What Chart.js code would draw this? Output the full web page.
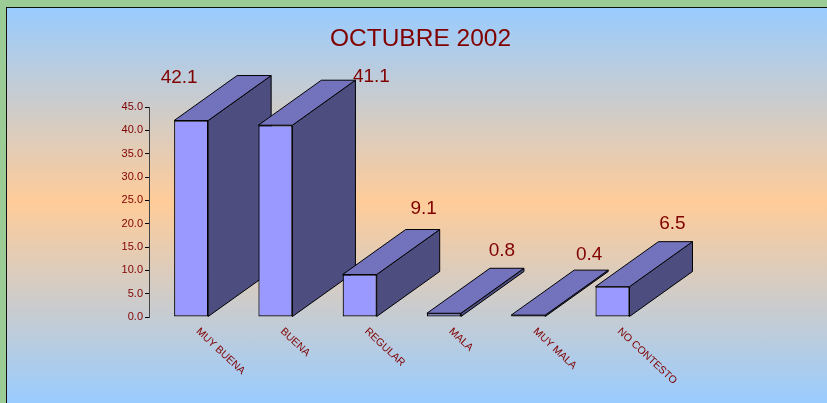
<!DOCTYPE html>
<html lang="es">
<head>
<meta charset="utf-8">
<title>OCTUBRE 2002</title>
<script src="https://cdn.jsdelivr.net/npm/chart.js@4"></script>
<style>
    html, body { margin: 0; height: 100%; background: #9ccc96; overflow: hidden; }
    #panel {
        position: absolute; left: 6px; top: 7px; width: 821px; height: 396px;
        border-left: 1px solid #111; border-top: 1px solid #111;
        background: linear-gradient(#99ccff 0%, #ffcc99 49%, #99ccff 100%);
        overflow: hidden;
    }
    #chart { display: block; }
</style>
</head>
<body>
<div id="panel"><canvas id="chart" width="827" height="395"></canvas></div>
<script>
// --- Data ---
const categories = ['MUY BUENA', 'BUENA', 'REGULAR', 'MALA', 'MUY MALA', 'NO CONTESTO'];
const values = [42.1, 41.1, 9.1, 0.8, 0.4, 6.5];
const chartTitle = 'OCTUBRE 2002';

// --- Styles ---
const textColor = '#800000';
const fontFamily = '"Liberation Sans", Arial, sans-serif';
const frontColor = '#9999ff';
const topColor = '#7373bd';
const sideColor = '#4d4d80';
const depthX = 63;
const depthY = -45;
// value labels were moved by hand in the original, so each has its own offset from the bar top
const labelOffsets = [[-12, -43], [96, -48], [64, -66], [58, -63], [61, -60], [60, -63]];

// title is centred on the whole canvas, not on the padded plot
const titlePlugin = {
    id: 'titleSpan',
    afterLayout(chart) {
        chart.titleBlock.left = 0;
        chart.titleBlock.right = chart.width;
    }
};

// draws the top and side face behind each bar
const depthPlugin = {
    id: 'depth',
    beforeDatasetsDraw(chart) {
        const ctx = chart.ctx;
        const face = (pts, color) => {
            ctx.beginPath();
            pts.forEach((p, i) => i ? ctx.lineTo(p[0], p[1]) : ctx.moveTo(p[0], p[1]));
            ctx.closePath();
            ctx.fillStyle = color;
            ctx.fill();
            ctx.stroke();
        };
        ctx.save();
        ctx.strokeStyle = '#000';
        ctx.lineWidth = 1;
        ctx.lineJoin = 'round';
        chart.getDatasetMeta(0).data.forEach((bar) => {
            const l = bar.x - bar.width / 2;
            const r = bar.x + bar.width / 2;
            face([[r, bar.y], [r + depthX, bar.y + depthY], [r + depthX, bar.base + depthY], [r, bar.base]], sideColor);
            face([[l, bar.y], [l + depthX, bar.y + depthY], [r + depthX, bar.y + depthY], [r, bar.y]], topColor);
        });
        ctx.restore();
    }
};

// value labels and the slanted category labels
const labelsPlugin = {
    id: 'labels',
    afterDraw(chart) {
        const ctx = chart.ctx;
        const xScale = chart.scales.x;
        ctx.save();
        ctx.fillStyle = textColor;
        ctx.textAlign = 'center';
        ctx.textBaseline = 'middle';
        ctx.font = '19px ' + fontFamily;
        chart.getDatasetMeta(0).data.forEach((bar, i) => {
            ctx.fillText(values[i].toFixed(1), bar.x + labelOffsets[i][0], bar.y + labelOffsets[i][1]);
        });
        ctx.font = '10.5px ' + fontFamily;
        ctx.textAlign = 'left';
        categories.forEach((name, i) => {
            ctx.save();
            ctx.translate(xScale.getPixelForValue(i) + 6.5, chart.chartArea.bottom + 13);
            ctx.rotate(43 * Math.PI / 180);
            ctx.fillText(name, 0, 0);
            ctx.restore();
        });
        ctx.restore();
    }
};

new Chart(document.getElementById('chart').getContext('2d'), {
    type: 'bar',
    data: {
        labels: categories,
        datasets: [{
            data: values,
            backgroundColor: frontColor,
            borderColor: '#000',
            borderWidth: 1.2,
            borderSkipped: false,
            barPercentage: 0.404,
            categoryPercentage: 1
        }]
    },
    plugins: [titlePlugin, depthPlugin, labelsPlugin],
    options: {
        responsive: false,
        animation: false,
        layout: { padding: { left: 0, top: 0, right: 179.4, bottom: 78 } },
        plugins: {
            legend: { display: false },
            tooltip: { enabled: false },
            title: {
                display: true,
                text: chartTitle,
                color: textColor,
                font: { family: fontFamily, size: 24.5, weight: 'normal' },
                padding: { top: 16.3, bottom: 53.3 }
            }
        },
        scales: {
            x: {
                grid: { display: false },
                border: { display: false },
                ticks: { display: false }
            },
            y: {
                min: 0,
                max: 45,
                afterFit(scale) { scale.width = 142; },
                border: { color: '#444', width: 1 },
                grid: { drawOnChartArea: false, color: '#000', tickLength: 4 },
                ticks: {
                    stepSize: 5,
                    padding: 2,
                    color: textColor,
                    font: { family: fontFamily, size: 11 },
                    callback: (v) => v.toFixed(1)
                }
            }
        }
    }
});
</script>
</body>
</html>
